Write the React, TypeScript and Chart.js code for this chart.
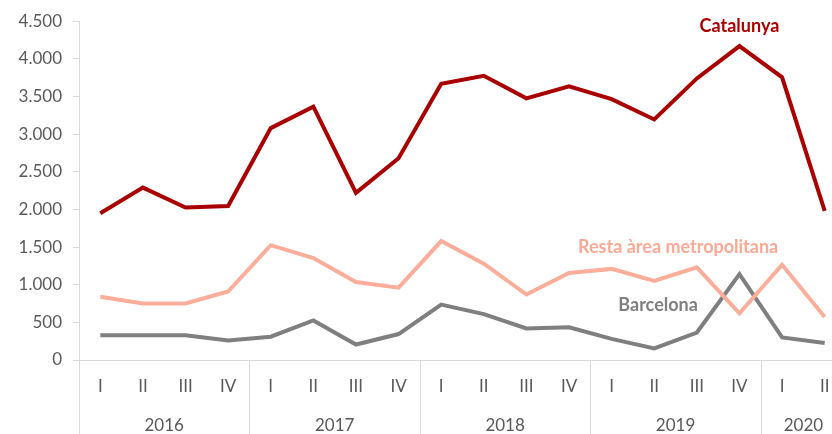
import { useEffect, useRef } from 'react';
import { Chart, registerables } from 'chart.js';

Chart.register(...registerables);

const quarters = ['I', 'II', 'III', 'IV', 'I', 'II', 'III', 'IV', 'I', 'II', 'III', 'IV', 'I', 'II', 'III', 'IV', 'I', 'II'];
const years = ['2016', '2017', '2018', '2019', '2020'];
const quartersPerYear = [4, 4, 4, 4, 2];

const catalunya = [1950, 2290, 2025, 2045, 3080, 3365, 2220, 2680, 3670, 3775, 3475, 3635, 3465, 3195, 3740, 4170, 3755, 1980];
const restaAreaMetropolitana = [840, 750, 750, 910, 1525, 1355, 1035, 960, 1580, 1280, 870, 1155, 1210, 1050, 1230, 620, 1265, 570];
const barcelona = [330, 330, 330, 260, 310, 525, 205, 345, 735, 610, 420, 435, 280, 155, 365, 1140, 300, 225];

const yMin = 0;
const yMax = 4500;
const yStep = 500;

const seriesNames = ['Catalunya', 'Resta àrea metropolitana', 'Barcelona'];

const FONT = 'Lato, "Open Sans", "DejaVu Sans", sans-serif';
const TEXT = '#595959';
const AXIS = '#d9d9d9';
const COLORS = ['#a80000', '#fcae9b', '#7f7f7f'];
const LABEL_COLORS = ['#a80000', '#fbaa96', '#7f7f7f'];

// anchor of each series label, in scale units (category index, value)
const labelAnchors = [
  { i: 15.0, v: 4440 },
  { i: 13.56, v: 1493 },
  { i: 13.09, v: 722 },
];

const fmt = (v: number) => String(v).replace(/\B(?=(\d{3})+(?!\d))/g, '.');

const groupPlugin = {
  id: 'groupAxis',
  afterDraw(chart: any) {
    const x = chart.scales.x;
    const y = chart.scales.y;
    const ctx = chart.ctx as CanvasRenderingContext2D;
    const top = chart.chartArea.bottom;
    const bottom = chart.height;
    const half = (x.getPixelForValue(1) - x.getPixelForValue(0)) / 2;
    ctx.save();
    ctx.strokeStyle = AXIS;
    ctx.lineWidth = 1;
    const sep = (idx: number) => {
      const px = Math.round(x.getPixelForValue(idx) - half) + 0.5;
      ctx.beginPath();
      ctx.moveTo(px, top);
      ctx.lineTo(px, bottom);
      ctx.stroke();
    };
    ctx.font = `17px ${FONT}`;
    ctx.fillStyle = TEXT;
    ctx.textAlign = 'center';
    ctx.textBaseline = 'middle';
    let start = 0;
    years.forEach((yr, k) => {
      const n = quartersPerYear[k];
      sep(start);
      const c = (x.getPixelForValue(start) + x.getPixelForValue(start + n - 1)) / 2;
      ctx.fillText(yr, c, 426);
      start += n;
    });
    sep(start);

    ctx.font = `bold 18px ${FONT}`;
    labelAnchors.forEach((a, k) => {
      ctx.fillStyle = LABEL_COLORS[k];
      ctx.fillText(seriesNames[k], x.getPixelForValue(a.i), y.getPixelForValue(a.v));
    });
    ctx.restore();
  },
};

export default function App() {
  const ref = useRef<HTMLCanvasElement>(null);
  useEffect(() => {
    if (!ref.current) return;
    const series = [catalunya, restaAreaMetropolitana, barcelona];
    const chart = new Chart(ref.current, {
      type: 'line',
      data: {
        labels: quarters,
        datasets: series.map((d, k) => ({
          label: seriesNames[k],
          data: d,
          borderColor: COLORS[k],
          backgroundColor: COLORS[k],
          borderWidth: 4,
          pointRadius: 0,
          tension: 0,
          fill: false,
        })),
      },
      options: {
        responsive: false,
        animation: false,
        layout: { padding: { top: 20, right: 4, left: 0, bottom: 0 } },
        plugins: { legend: { display: false }, tooltip: { enabled: false } },
        scales: {
          x: {
            type: 'category',
            offset: true,
            grid: { display: false, drawOnChartArea: false, drawTicks: false },
            border: { display: true, color: AXIS, width: 1 },
            ticks: { color: TEXT, font: { family: FONT, size: 17 }, padding: 16, maxRotation: 0, autoSkip: false },
            afterFit: (s: any) => { s.height = 74; },
          },
          y: {
            min: yMin,
            max: yMax,
            grid: { drawOnChartArea: false, drawTicks: true, tickLength: 6, color: AXIS },
            border: { display: true, color: AXIS, width: 1 },
            ticks: { stepSize: yStep, color: TEXT, font: { family: FONT, size: 17 }, padding: 11, callback: (v: any) => fmt(Number(v)) },
            afterFit: (s: any) => { s.width = 79; },
          },
        },
      },
      plugins: [groupPlugin],
    });
    return () => chart.destroy();
  }, []);
  return (
    <div style={{ position: 'absolute', left: 0, top: 0, width: 832, height: 434, overflow: 'hidden', background: '#fff' }}>
      <canvas ref={ref} width={850} height={434} style={{ display: 'block' }} />
    </div>
  );
}
